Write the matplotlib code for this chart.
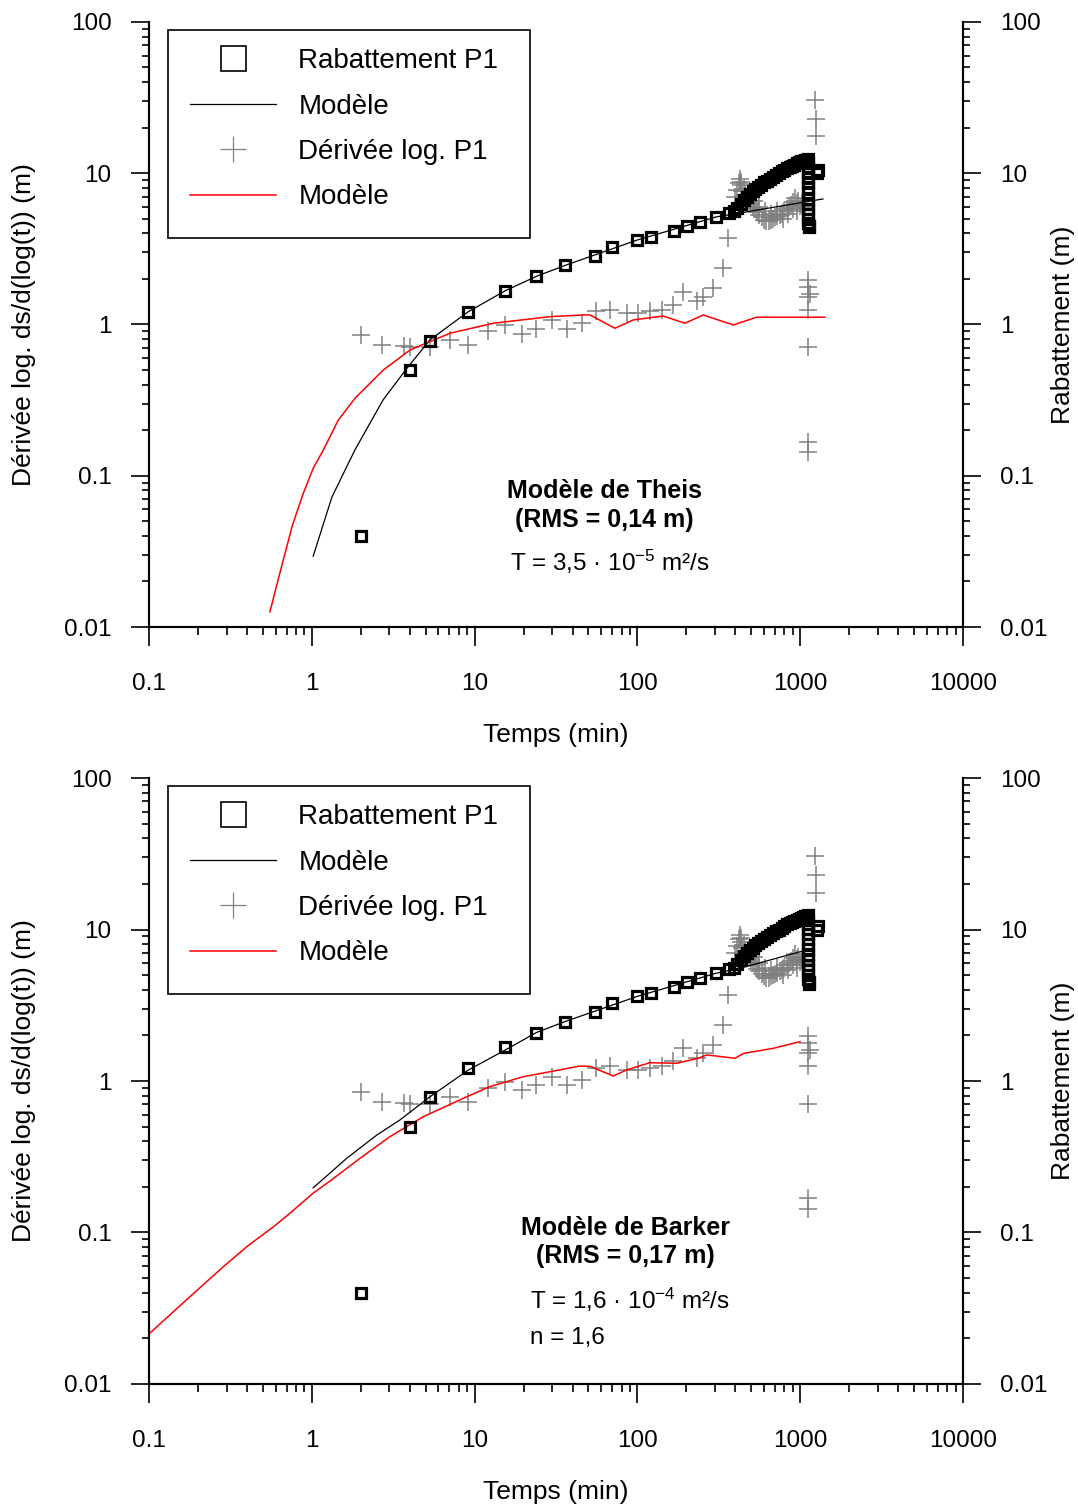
import matplotlib
matplotlib.use("Agg")
import matplotlib.pyplot as plt
from matplotlib.lines import Line2D
from matplotlib.patches import Rectangle
from matplotlib.ticker import FixedLocator, NullFormatter

plt.rcParams['font.family'] = ['Liberation Sans', 'DejaVu Sans']
plt.rcParams['mathtext.fontset'] = 'custom'
plt.rcParams['mathtext.rm'] = 'Liberation Sans'
plt.rcParams['mathtext.it'] = 'Liberation Sans:italic'
plt.rcParams['mathtext.bf'] = 'Liberation Sans:bold'

# --- mesures P1 (temps en min, rabattement en m) ---
t_rab = [2.0, 4.0, 5.3, 9.1, 15.4, 24, 36, 55, 70, 100, 121, 168, 202, 243, 304, 365,
         390, 410, 430, 450, 470, 490, 510, 530, 550, 575, 600, 625, 650, 680, 710,
         740, 770, 800, 830, 860, 890, 920, 950, 980, 1010, 1040, 1070, 1090,
         1110, 1110, 1112, 1112, 1114, 1114, 1116, 1116, 1118, 1118, 1120, 1120,
         1122, 1122, 1125, 1125, 1270, 1285]
s_rab = [0.04, 0.50, 0.78, 1.21, 1.67, 2.09, 2.47, 2.84, 3.25, 3.62, 3.8, 4.15, 4.48, 4.76, 5.14, 5.46,
         5.6, 5.9, 6.3, 6.7, 7.0, 7.3, 7.6, 7.9, 8.1, 8.4, 8.7, 8.9, 9.2, 9.5, 9.8,
         10.0, 10.3, 10.5, 10.8, 11.0, 11.2, 11.4, 11.6, 11.8, 12.0, 12.1, 12.2, 12.3,
         12.4, 11.6, 10.8, 10.1, 9.4, 8.7, 8.0, 7.4, 6.8, 6.3, 5.8, 5.4,
         5.0, 4.7, 4.5, 4.4, 10.0, 10.5]

# derivee logarithmique P1
t_der = [2.0, 2.69, 3.7, 4.0, 5.3, 7.06, 9.1, 12.1, 15.4, 19.5, 24, 29.7, 36.7, 45.4, 56, 67.8,
         86, 101, 119, 141, 166, 191, 231, 254, 293, 337, 362,
         400, 410, 420, 425, 430, 435, 440, 450, 460, 470, 480, 490, 500, 515, 530, 545,
         560, 580, 600, 620, 640, 660, 680, 700, 725, 750, 775, 800, 825, 850, 875, 900,
         925, 950, 975, 1000, 1025, 1050,
         520, 560, 610, 660, 720, 780, 840, 900, 960,
         1115, 1115, 1115, 1115, 1115, 1115, 1115, 1150, 1230, 1250, 1245]
d_der = [0.85, 0.73, 0.72, 0.71, 0.71, 0.79, 0.73, 0.90, 0.99, 0.87, 0.94, 1.07, 0.94, 1.02, 1.22, 1.25,
         1.19, 1.19, 1.22, 1.25, 1.35, 1.65, 1.42, 1.53, 1.73, 2.35, 3.72,
         7.0, 7.8, 8.6, 9.2, 8.3, 8.8, 7.6, 7.9, 7.2, 7.0, 6.8, 6.5, 6.3, 6.0, 5.8, 5.5,
         5.3, 5.1, 4.9, 4.8, 4.8, 4.9, 5.0, 5.1, 5.2, 5.3, 5.4, 5.6, 5.8, 6.0, 6.2, 6.5,
         6.9, 6.4, 6.6, 6.1, 6.3, 6.0,
         6.6, 6.0, 5.6, 5.4, 5.6, 5.0, 5.4, 5.8, 5.6,
         1.97, 1.78, 1.53, 1.25, 0.71, 0.168, 0.144, 1.6, 30.5, 23, 17.5]

# modele de Theis
t_theis = [1.02, 1.33, 1.84, 2.74, 3.85, 5.32, 9.1, 15.4, 24.2, 36.4, 100, 304, 427, 1380]
s_theis = [0.0294, 0.0724, 0.148, 0.317, 0.515, 0.791, 1.21, 1.67, 2.09, 2.47, 3.62, 5.14, 5.46, 6.76]
t_theis_d = [0.553, 0.61, 0.668, 0.76, 0.887, 1.02, 1.178, 1.45, 1.841, 2.748, 4.009, 7.063, 13.03,
             29.04, 46.56, 51.17, 72.78, 94.41, 144.2, 195.9, 254.1, 388.2, 539.5, 1419]
d_theis = [0.0126, 0.019, 0.0277, 0.047, 0.0766, 0.112, 0.148, 0.232, 0.325, 0.500, 0.678, 0.875,
           1.019, 1.127, 1.156, 1.156, 0.944, 1.072, 1.138, 1.019, 1.156, 0.993, 1.117, 1.117]

# modele de Barker
t_barker = [1.02, 1.64, 2.51, 3.48, 5.32, 9.14, 15.4, 24, 36, 100, 304, 427, 998, 1100]
s_barker = [0.197, 0.309, 0.440, 0.553, 0.787, 1.18, 1.60, 2.09, 2.47, 3.62, 5.14, 5.55, 7.13, 7.3]
t_barker_d = [0.101, 0.145, 0.183, 0.286, 0.398, 0.581, 0.735, 1.02, 1.32, 1.98, 3.02, 4.84, 8.53,
              12.4, 19.9, 29.0, 44.4, 51.2, 71.1, 85.9, 119.4, 174.2, 236.6, 266.7, 398, 448, 684, 998]
d_barker = [0.0216, 0.0308, 0.0386, 0.0594, 0.0805, 0.109, 0.134, 0.182, 0.222, 0.309, 0.429, 0.581,
            0.769, 0.918, 1.067, 1.151, 1.256, 1.25, 1.079, 1.183, 1.321, 1.309, 1.413, 1.486,
            1.413, 1.52, 1.644, 1.82]

x_ticks = [0.1, 1, 10, 100, 1000, 10000]
x_labels = ['0.1', '1', '10', '100', '1000', '10000']
y_ticks = [0.01, 0.1, 1, 10, 100]
y_labels = ['0.01', '0.1', '1', '10', '100']

GREY = '#808080'


def setup_axes(ax):
    minors_x = [m * 10.0 ** e for e in range(-1, 4) for m in range(2, 10)]
    minors_y = [m * 10.0 ** e for e in range(-2, 2) for m in range(2, 10)]
    ax2 = ax.twinx()
    for a in (ax, ax2):
        a.set_xscale('log')
        a.set_yscale('log')
        a.set_xlim(0.1, 10000)
        a.set_ylim(0.01, 100)
        a.yaxis.set_major_locator(FixedLocator(y_ticks))
        a.yaxis.set_minor_locator(FixedLocator(minors_y))
        a.set_yticklabels(y_labels)
        a.yaxis.set_minor_formatter(NullFormatter())
        a.spines['top'].set_visible(False)
        for s in a.spines.values():
            s.set_linewidth(1.5)
        a.tick_params(axis='y', which='major', length=13, width=1.2, pad=14, labelsize=17.5)
        a.tick_params(axis='y', which='minor', length=5, width=1.2)
    ax.xaxis.set_major_locator(FixedLocator(x_ticks))
    ax.xaxis.set_minor_locator(FixedLocator(minors_x))
    ax.set_xticklabels(x_labels)
    ax.xaxis.set_minor_formatter(NullFormatter())
    ax.tick_params(axis='x', which='major', length=14, width=1.2, pad=19, labelsize=17.5)
    ax.tick_params(axis='x', which='minor', length=6, width=1.2)
    ax.set_xlabel('Temps (min)', fontsize=19, labelpad=20)
    ax.set_ylabel('Dérivée log. ds/d(log(t)) (m)', fontsize=19, labelpad=20)
    ax2.set_ylabel('Rabattement (m)', fontsize=19, labelpad=2)
    return ax2


def draw_panel(ax, t_m, s_m, t_md, d_m):
    ax.plot(t_m, s_m, color='black', lw=0.9, zorder=3)
    ax.plot(t_md, d_m, color='red', lw=1.1, zorder=3)
    ax.plot(t_der, d_der, ls='none', marker='+', ms=13, mew=1.1, color=GREY, zorder=2)
    ax.plot(t_rab, s_rab, ls='none', marker='s', ms=6.5, mew=2.3, mfc='none', mec='black', zorder=4)
    handles = [
        Line2D([], [], ls='none', marker='s', ms=18, mew=1.2, mfc='none', mec='black'),
        Line2D([], [], color='black', lw=0.9),
        Line2D([], [], ls='none', marker='+', ms=19, mew=0.9, color=GREY),
        Line2D([], [], color='red', lw=1.1),
    ]
    labels = ['Rabattement P1', 'Modèle', 'Dérivée log. P1', 'Modèle']
    leg = ax.legend(handles, labels, loc='upper left', bbox_to_anchor=(0.0369, 0.9752),
                    borderaxespad=0, fontsize=20, handlelength=3.1, handletextpad=0.8,
                    borderpad=0.4, labelspacing=0.7, frameon=False)
    leg.set_zorder(10)
    box = Rectangle((0.0233, 0.643), 0.4447, 0.3438, transform=ax.transAxes, fill=True,
                    facecolor='white', edgecolor='black', lw=1.2, zorder=9)
    ax.add_patch(box)


fig = plt.figure(figsize=(10.78, 15.04), dpi=100)

ax_top = fig.add_axes([0.1382, 0.5831, 0.7551, 0.4023])
ax_top2 = setup_axes(ax_top)
draw_panel(ax_top, t_theis, s_theis, t_theis_d, d_theis)
ax_top.text(0.559, 0.2248, 'Modèle de Theis', transform=ax_top.transAxes, ha='center', va='center',
            fontsize=18, fontweight='bold')
ax_top.text(0.559, 0.1769, '(RMS = 0,14 m)', transform=ax_top.transAxes, ha='center', va='center',
            fontsize=18, fontweight='bold')
ax_top.text(0.4435, 0.1074, r'T = 3,5 · 10$^{-5}$ m²/s', transform=ax_top.transAxes, ha='left',
            va='center', fontsize=17.5)

ax_bot = fig.add_axes([0.1382, 0.0798, 0.7551, 0.4029])
ax_bot2 = setup_axes(ax_bot)
draw_panel(ax_bot, t_barker, s_barker, t_barker_d, d_barker)
ax_bot.text(0.5848, 0.2574, 'Modèle de Barker', transform=ax_bot.transAxes, ha='center', va='center',
            fontsize=18, fontweight='bold')
ax_bot.text(0.5848, 0.2112, '(RMS = 0,17 m)', transform=ax_bot.transAxes, ha='center', va='center',
            fontsize=18, fontweight='bold')
ax_bot.text(0.468, 0.1386, r'T = 1,6 · 10$^{-4}$ m²/s', transform=ax_bot.transAxes, ha='left',
            va='center', fontsize=17.5)
ax_bot.text(0.468, 0.0759, 'n = 1,6', transform=ax_bot.transAxes, ha='left', va='center',
            fontsize=17.5)

fig.savefig('out.png', dpi=100)
